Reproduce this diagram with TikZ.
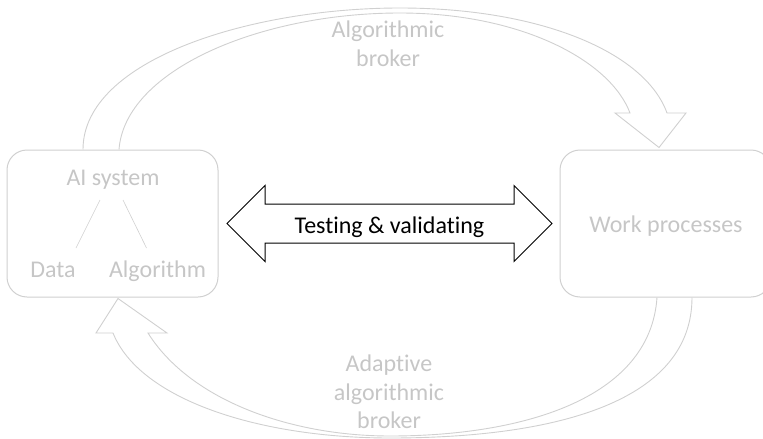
\documentclass[tikz,border=0pt]{standalone}
\usepackage{fontspec}
\setmainfont{Carlito}[Ligatures=NoCommon]
\usetikzlibrary{calc,shapes.arrows}
\definecolor{softgray}{RGB}{208,208,208}
\definecolor{labelgray}{RGB}{198,198,198}

\begin{document}
\begin{tikzpicture}[x=1pt,y=-1pt,
  box/.style={draw=softgray,line width=1pt,rounded corners=20pt,minimum width=211pt,minimum height=147pt},
  lbl/.style={text=labelgray,font=\fontsize{24}{28.5}\selectfont,inner sep=0pt},
  broker/.style={draw=softgray,line width=0.9pt},
  branch/.style={draw=softgray,line width=0.6pt},
  twoway/.style={double arrow,draw=black,line width=1pt,double arrow head extend=18.5pt,
    double arrow tip angle=90,minimum height=325pt,inner xsep=0pt,inner ysep=8.5pt,
    text height=20pt,text depth=1pt,font=\fontsize{24}{28}\selectfont}]
\useasboundingbox (0,0) rectangle (763,439);
\node[box] (ai) at (112.5,223.5) {};
\node[box] (wp) at (665.5,223.5) {};
\node[lbl,anchor=base] (aitext) at (113,185) {AI system};
\node[lbl,anchor=base] (data) at (53,277) {Data};
\node[lbl,anchor=base] (algo) at (157.5,277) {Algorithm};
\node[lbl,anchor=base] (wptext) at (666,232) {Work processes};
\node[lbl,align=center] (topbroker) at (388,44) {Algorithmic\\broker};
\node[lbl,align=center] (botbroker) at (389,392) {Adaptive\\algorithmic\\broker};
\node[twoway] (tv) at (389.5,223.5) {Testing \& validating};
\draw[branch] ($(aitext.base)+(-13,15)$) -- ($(data.base)+(23,-29)$);
\draw[branch] ($(aitext.base)+(10,15)$) -- ($(algo.base)+(-11,-29)$);
\draw[broker] ($(ai.north)+(-29.5,0)$) .. controls (83,60) and (250,8) .. (400,8)
  .. controls (540,8) and (645,52) .. (667,113) -- (686,113) -- ($(wp.north)+(-6.5,-2)$)
  -- (615,113) -- (630,113) .. controls (610,60) and (520,13) .. (400,13)
  .. controls (260,13) and (125,70) .. ($(ai.north)+(6.5,0)$);
\draw[broker] ($(wp.south)+(26.5,0)$) .. controls (692,400) and (560,438) .. (390,438)
  .. controls (260,438) and (140,400) .. (113,333) -- (96,333) -- ($(ai.south)+(5.5,1)$)
  -- (167,333) -- (148,333) .. controls (190,400) and (290,436) .. (390,436)
  .. controls (520,436) and (650,400) .. ($(wp.south)+(-8.5,0)$);
\end{tikzpicture}
\end{document}
